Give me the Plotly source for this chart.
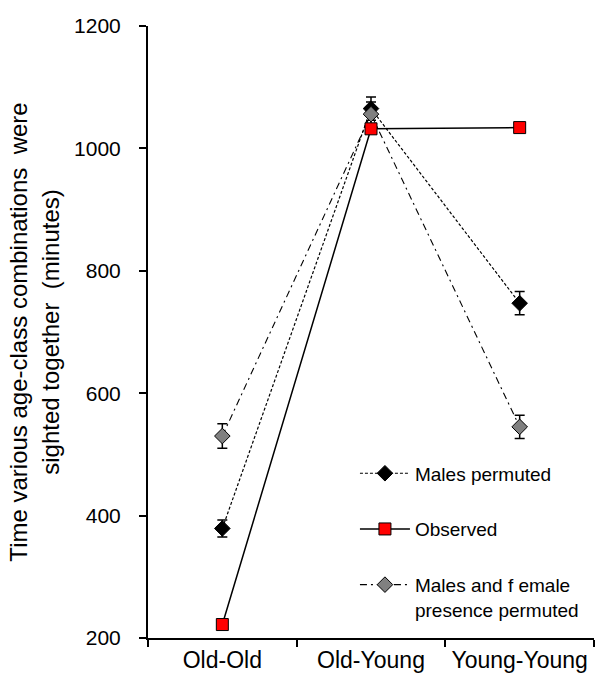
import plotly.graph_objects as go

# Age-class combinations on the x axis
categories = ["Old-Old", "Old-Young", "Young-Young"]

# Mean time (minutes) each combination was sighted together
males_permuted = [379, 1065, 747]
males_permuted_err = [14, 19, 19]

observed = [222, 1032, 1034]

males_female_permuted = [530, 1056, 545]
males_female_permuted_err = [20, 20, 19]

y_ticks = [200, 400, 600, 800, 1000, 1200]

FONT = "Liberation Sans, Arial, sans-serif"

fig = go.Figure()

fig.add_trace(go.Scatter(
    x=categories, y=males_permuted, name="Males permuted",
    mode="lines+markers", legendrank=1, legendgroup="a",
    line=dict(color="black", width=1.2, dash="3px,2px"),
    marker=dict(symbol="diamond", size=12, color="black",
                line=dict(color="black", width=1)),
    error_y=dict(type="data", array=males_permuted_err, visible=True,
                 color="black", thickness=1.5, width=5),
))

fig.add_trace(go.Scatter(
    x=categories, y=males_female_permuted,
    name="Males and f emale<br>presence permuted",
    mode="lines+markers", legendrank=3, legendgroup="c",
    line=dict(color="black", width=1.1, dash="7px,4px,2px,4px"),
    marker=dict(symbol="diamond", size=12, color="#808080",
                line=dict(color="black", width=1)),
    error_y=dict(type="data", array=males_female_permuted_err, visible=True,
                 color="black", thickness=1.5, width=5),
))

fig.add_trace(go.Scatter(
    x=categories, y=observed, name="Observed",
    mode="lines+markers", legendrank=2, legendgroup="b",
    line=dict(color="black", width=1.5),
    marker=dict(symbol="square", size=12, color="#FF0000",
                line=dict(color="black", width=1)),
))

fig.update_layout(
    width=595, height=684,
    margin=dict(l=148, r=1, t=26, b=46),
    paper_bgcolor="white", plot_bgcolor="white",
    font=dict(family=FONT, size=20, color="black"),
    legend=dict(
        x=0.464, y=0.30, xanchor="left", yanchor="top",
        font=dict(family=FONT, size=19, color="black"),
        bgcolor="rgba(0,0,0,0)", tracegroupgap=28,
        traceorder="grouped", valign="top", itemwidth=50,
    ),
)

fig.update_xaxes(
    type="category", range=[-0.5, 2.5],
    showline=True, linecolor="black", linewidth=2,
    ticks="outside", tickson="boundaries", ticklen=7,
    tickwidth=2, tickcolor="black",
    tickfont=dict(family=FONT, size=23),
    showgrid=False, zeroline=False,
)

fig.update_yaxes(
    range=[200, 1200], tickvals=y_ticks,
    showline=True, linecolor="black", linewidth=2,
    ticks="outside", ticklen=7, tickwidth=2, tickcolor="black",
    ticklabelstandoff=14,
    tickfont=dict(family=FONT, size=21),
    showgrid=False, zeroline=False,
    title=dict(
        text="Time various age-class combinations  were<br>sighted together  (minutes)",
        font=dict(family=FONT, size=24), standoff=8,
    ),
)

fig.write_html("out.html")
